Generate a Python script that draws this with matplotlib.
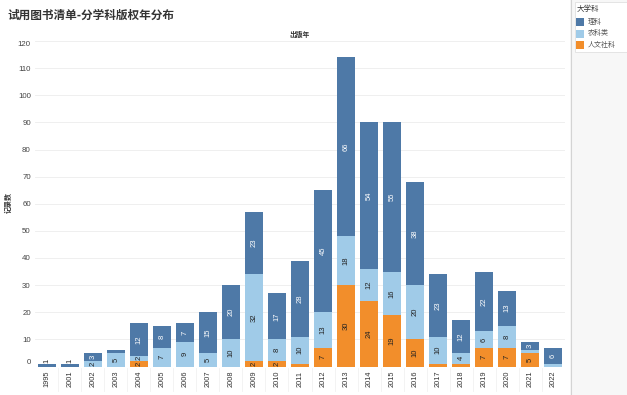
import numpy as np
import matplotlib
matplotlib.use('Agg')
import matplotlib.pyplot as plt
from matplotlib.patches import Rectangle

plt.rcParams['font.family'] = ['Noto Sans CJK SC', 'DejaVu Sans']

##### Data #####
years = ['1995', '2001', '2002', '2003', '2004', '2005', '2006', '2007', '2008',
         '2009', '2010', '2011', '2012', '2013', '2014', '2015', '2016', '2017',
         '2018', '2019', '2020', '2021', '2022']
# stacked bottom -> top
renwen = [0, 0, 0, 0, 2, 0, 0, 0, 0, 2, 2, 1, 7, 30, 24, 19, 10, 1, 1, 7, 7, 5, 0]
nongke = [0, 0, 2, 5, 2, 7, 9, 5, 10, 32, 8, 10, 13, 18, 12, 16, 20, 10, 4, 6, 8, 1, 1]
like = [1, 1, 3, 1, 12, 8, 7, 15, 20, 23, 17, 28, 45, 66, 54, 55, 38, 23, 12, 22, 13, 3, 6]

series = [('人文社科', renwen, '#f28e2b', '#222222'),
          ('农科类', nongke, '#a0cbe8', '#222222'),
          ('理科', like, '#4e79a7', '#ffffff')]
legend_order = ['理科', '农科类', '人文社科']

##### Figure #####
fig = plt.figure(figsize=(6.27, 3.95), dpi=100)
W, H = 627, 395
ax = fig.add_axes([35 / W, (H - 366.5) / H, 530 / W, 325.5 / H])

x = np.arange(len(years))
bottom = np.zeros(len(years))
totals = np.array(renwen) + np.array(nongke) + np.array(like)
for name, vals, col, tcol in series:
    vals = np.array(vals)
    ax.bar(x, vals, bottom=bottom, width=0.76, color=col, zorder=3)
    for i, v in enumerate(vals):
        if v >= 2:
            ax.text(x[i], bottom[i] + v / 2, str(v), rotation=90, ha='center',
                    va='center', fontsize=5.5, color=tcol,
                    family='Liberation Sans', zorder=4)
        elif v == 1 and totals[i] == 1:
            # tiny lone bar: label sits just above it
            ax.text(x[i], bottom[i] + v + 0.3, str(v), rotation=90, ha='center',
                    va='bottom', fontsize=5.5, color='#222222',
                    family='Liberation Sans', zorder=4)
    bottom = bottom + vals

ax.set_xlim(-0.52, len(years) - 0.48)
ax.set_ylim(0, 120)
ax.set_yticks(range(0, 121, 10))
ax.set_xticks(x)
ax.set_xticklabels(years, rotation=90, fontsize=5.3, family='Liberation Sans',
                   color='#333333')
for lbl in ax.get_yticklabels():
    lbl.set_fontsize(5.7)
    lbl.set_family('Liberation Sans')
    lbl.set_color('#444444')
ylbls = ax.get_yticklabels()
ylbls[0].set_va('bottom')
ylbls[-1].set_va('top')
ax.tick_params(axis='both', length=0, pad=3)
ax.grid(axis='y', color='#ececec', linewidth=0.6, zorder=0)
for s in ax.spines.values():
    s.set_visible(False)

# column dividers under the axis
for xi in x[:-1]:
    ax.plot([xi + 0.5, xi + 0.5], [-0.5, -9], color='#eeeeee', lw=0.5,
            clip_on=False, zorder=1)

##### Texts #####
fig.text(7 / W, 1 - 15 / H, '试用图书清单-分学科版权年分布', fontsize=8.4,
         fontweight='bold', color='#333333', va='center', ha='left')
fig.text(300 / W, 1 - 34 / H, '出版年', fontsize=4.9, fontweight='bold',
         color='#333333', ha='center', va='center')
fig.text(8 / W, 1 - 203 / H, '记录数', fontsize=5, fontweight='bold',
         color='#333333', rotation=90, ha='center', va='center')

##### Legend panel #####
fig.patches.append(Rectangle((570 / W, 0), 57 / W, 1, transform=fig.transFigure,
                             facecolor='#f7f7f7', edgecolor='none', zorder=0))
fig.lines.append(plt.Line2D([570.5 / W, 570.5 / W], [0, 1], transform=fig.transFigure,
                            color='#d4d4d4', lw=0.8))
fig.patches.append(Rectangle((575 / W, 1 - 52 / H), 52 / W, 50 / H,
                             transform=fig.transFigure, facecolor='white',
                             edgecolor='#e0e0e0', lw=0.6, zorder=1))
fig.text(577 / W, 1 - 9 / H, '大学科', fontsize=5.4, color='#333333',
         va='center', ha='left')
colors = {name: col for name, vals, col, tcol in series}
for k, name in enumerate(legend_order):
    yc = 22 + k * 11.5
    fig.patches.append(Rectangle((576 / W, 1 - (yc + 4) / H), 8 / W, 8 / H,
                                 transform=fig.transFigure, facecolor=colors[name],
                                 edgecolor='none', zorder=2))
    fig.text(588 / W, 1 - yc / H, name, fontsize=5, color='#555555',
             va='center', ha='left')

fig.savefig('out.png', dpi=100)
